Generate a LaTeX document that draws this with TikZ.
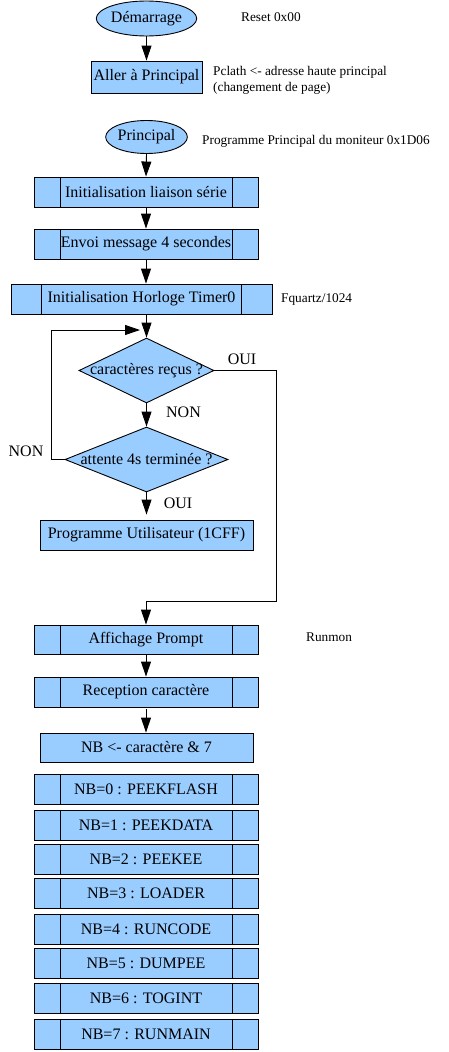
\documentclass[tikz,border=0pt]{standalone}
\usepackage{fontspec}
\setmainfont{Liberation Serif}
\usetikzlibrary{shapes.geometric,arrows.meta,calc}
\definecolor{boxblue}{HTML}{99CCFF}
\tikzset{
  base/.style={draw=black, line width=0.9pt, fill=boxblue, inner sep=0pt, font=\fontsize{16}{19}\selectfont},
  box/.style 2 args={base, rectangle, minimum width=#1, minimum height=#2},
  subbox/.style n args={4}{box={#1}{#2},
    path picture={
      \draw[line width=0.9pt] ([xshift=#3]path picture bounding box.north west) -- ([xshift=#3]path picture bounding box.south west);
      \draw[line width=0.9pt] ([xshift=-#4]path picture bounding box.north east) -- ([xshift=-#4]path picture bounding box.south east);
    }},
  term/.style 2 args={base, ellipse, minimum width=#1, minimum height=#2},
  decide/.style 2 args={base, diamond, minimum width=#1, minimum height=#2},
  arr/.style={draw=black, line width=0.9pt, -{Triangle[length=15pt,width=10pt]}},
  wire/.style={draw=black, line width=0.9pt},
  lbl/.style={inner sep=0pt, font=\fontsize{16}{19}\selectfont},
  note/.style={inner sep=0pt, anchor=west, font=\fontsize{13.3}{16}\selectfont},
}
\begin{document}
\begin{tikzpicture}[x=1pt,y=-1pt]
\useasboundingbox (0,0) rectangle (448,1052);
% nodes
\node[term={81pt}{35pt}] (dem) at (146.5,18.5) {Démarrage};
\node[box={111pt}{32pt}] (aller) at (146.5,77) {Aller à Principal};
\node[term={81pt}{33pt}] (princ) at (146.5,137) {Principal};
\node[subbox={224pt}{30pt}{26pt}{26pt}] (init) at (146,192) {Initialisation liaison série};
\node[subbox={224pt}{30pt}{26pt}{26pt}] (envoi) at (146,244) {Envoi message 4 secondes};
\node[subbox={261pt}{30pt}{30pt}{31pt}] (horl) at (141.5,299) {Initialisation Horloge Timer0};
\node[decide={135pt}{65pt}] (d1) at (146.5,370.5) {\makebox[0pt]{caractères reçus ?}};
\node[decide={163pt}{65pt}] (d2) at (146.5,459.5) {\makebox[0pt]{attente 4s terminée ?}};
\node[box={213pt}{30pt}] (prog) at (146.5,535) {Programme Utilisateur (1CFF)};
\node[subbox={224pt}{29pt}{26pt}{26pt}] (aff) at (146,639.5) {Affichage Prompt};
\node[subbox={224pt}{30pt}{26pt}{26pt}] (recep) at (146,692) {Reception caractère};
\node[box={213pt}{29pt}] (nb) at (146.5,747.5) {NB <- caractère \& 7};
\node[subbox={224pt}{30pt}{26pt}{26pt}] (nb0) at (146,789) {NB=0 : PEEKFLASH};
\node[subbox={224pt}{30pt}{26pt}{26pt}] (nb1) at (146,825) {NB=1 : PEEKDATA};
\node[subbox={224pt}{30pt}{26pt}{26pt}] (nb2) at (146,859) {NB=2 : PEEKEE};
\node[subbox={224pt}{30pt}{26pt}{26pt}] (nb3) at (146,893) {NB=3 : LOADER};
\node[subbox={224pt}{30pt}{26pt}{26pt}] (nb4) at (146,929) {NB=4 : RUNCODE};
\node[subbox={224pt}{30pt}{26pt}{26pt}] (nb5) at (146,963) {NB=5 : DUMPEE};
\node[subbox={224pt}{30pt}{26pt}{26pt}] (nb6) at (146,998.5) {NB=6 : TOGINT};
\node[subbox={224pt}{30pt}{26pt}{26pt}] (nb7) at (146,1034.5) {NB=7 : RUNMAIN};
% annotations
\node[note] (n1) at (241,17) {Reset 0x00};
\node[note, align=left] (n2) at (213,80) {Pclath <- adresse haute principal\\(changement de page)};
\node[note] (n3) at (202,141) {Programme Principal du moniteur 0x1D06};
\node[note] (n4) at (281,299) {Fquartz/1024};
\node[note] (n5) at (306,637) {Runmon};
% labels
\node[lbl] (oui1) at (242,359) {OUI};
\node[lbl] (non1) at (183.5,412) {NON};
\node[lbl] (non2) at (26,451) {NON};
\node[lbl] (oui2) at (178,503) {OUI};
% helper coordinates
\coordinate (loopX) at (51,0);
\coordinate (loopEnd) at (140,330);
\coordinate (ouiX) at (276,601);
% connectors
\draw[arr] (dem.south) -- (aller.north);
\draw[arr] (princ.south) -- (init.north);
\draw[arr] (init.south) -- (envoi.north);
\draw[arr] (envoi.south) -- (envoi.south |- horl.north);
\draw[arr] (horl.south -| d1.north) -- (d1.north);
\draw[arr] (d2.west) -- (d2.west -| loopX) |- (loopEnd);
\draw[arr] (d1.south) -- (d2.north);
\draw[arr, shorten >=5pt] (d2.south) -- (prog.north);
\draw[arr] (d1.east) -| (ouiX) -| (aff.north);
\draw[arr] (aff.south) -- (recep.north);
\draw[arr, shorten <=2pt] (recep.south) -- (recep.south |- nb.north);
\end{tikzpicture}
\end{document}
